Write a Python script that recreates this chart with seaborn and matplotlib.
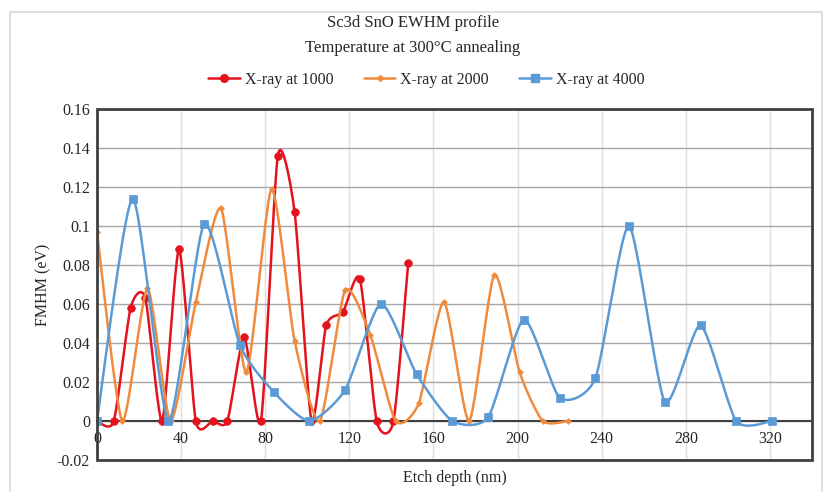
import numpy as np
import pandas as pd
import seaborn as sns
import matplotlib.pyplot as plt
from matplotlib.lines import Line2D
from matplotlib.patches import Rectangle
from matplotlib.ticker import MultipleLocator

# values
red_x = [0, 8, 16, 23, 31, 39, 47, 55, 62, 70, 78, 86, 94, 102, 109, 117, 125, 133, 141, 148]
red_y = [0, 0, 0.058, 0.063, 0, 0.088, 0, 0, 0, 0.043, 0, 0.136, 0.107, 0, 0.049, 0.056, 0.073, 0, 0, 0.081]

orange_x = [0, 12, 24, 35, 47, 59, 71, 83, 94, 106, 118, 130, 142, 153, 165, 177, 189, 201, 212, 224]
orange_y = [0.097, 0, 0.068, 0, 0.061, 0.109, 0.025, 0.119, 0.041, 0, 0.067, 0.044, 0, 0.009, 0.061, 0, 0.075, 0.025, 0, 0]

blue_x = [0, 17, 34, 51, 68, 84, 101, 118, 135, 152, 169, 186, 203, 220, 237, 253, 270, 287, 304, 321]
blue_y = [0, 0.114, 0, 0.101, 0.039, 0.015, 0, 0.016, 0.060, 0.024, 0, 0.002, 0.052, 0.012, 0.022, 0.100, 0.010, 0.049, 0, 0]

labels = ["X-ray at 1000", "X-ray at 2000", "X-ray at 4000"]
colors = ["#e3121c", "#f08a3c", "#5b9bd5"]
markers = ["o", "D", "s"]
msizes = [5.5, 3, 6]


def smooth(xs, ys, n=24, k=0.11):
    # excel style smoothed line (bezier through the points)
    p = np.column_stack([xs, ys]).astype(float)
    pts = [p[0]] + list(p) + [p[-1]]
    out = []
    t = np.linspace(0, 1, n)[:, None]
    for i in range(1, len(pts) - 2):
        p0, p1, p2, p3 = pts[i - 1], pts[i], pts[i + 1], pts[i + 2]
        c1 = p1 + (p2 - p0) * k
        c2 = p2 - (p3 - p1) * k
        seg = ((1 - t) ** 3) * p1 + 3 * ((1 - t) ** 2) * t * c1 + 3 * (1 - t) * t ** 2 * c2 + t ** 3 * p2
        out.append(seg)
    s = np.vstack(out)
    return s[:, 0], s[:, 1]


sns.set_style("white")
plt.rcParams["font.family"] = ["Liberation Serif", "DejaVu Serif"]

fig = plt.figure(figsize=(8.26, 4.92), dpi=100)
ax = fig.add_axes([0.1174, 0.065, 0.8656, 0.7135])

series = [(red_x, red_y), (orange_x, orange_y), (blue_x, blue_y)]
for k, (xs, ys) in enumerate(series):
    sx, sy = smooth(xs, ys)
    curve = pd.DataFrame({"x": sx, "y": sy})
    sns.lineplot(data=curve, x="x", y="y", sort=False, estimator=None, ax=ax,
                 color=colors[k], lw=1.8, zorder=3 + k)
    pts = pd.DataFrame({"x": xs, "y": ys})
    sns.scatterplot(data=pts, x="x", y="y", ax=ax, color=colors[k], marker=markers[k],
                    s=msizes[k] ** 2, edgecolor=colors[k], linewidth=0.5, zorder=3.5 + k)

ax.set_xlim(0, 340)
ax.set_ylim(-0.02, 0.16)
ax.xaxis.set_major_locator(MultipleLocator(40))
ax.xaxis.set_minor_locator(MultipleLocator(8))
ax.yaxis.set_minor_locator(MultipleLocator(0.002))
ax.set_yticks(np.arange(-0.02, 0.161, 0.02))
ax.set_yticklabels(["-0.02", "0", "0.02", "0.04", "0.06", "0.08", "0.1", "0.12", "0.14", "0.16"])

ax.grid(axis="y", color="#a6a6a6", lw=1.0)
ax.grid(axis="x", color="#dedede", lw=1.0)
ax.set_axisbelow(True)

for side in ["top", "right", "left"]:
    ax.spines[side].set_visible(False)
ax.spines["bottom"].set_position(("data", 0))
ax.spines["bottom"].set_color("#404040")
ax.spines["bottom"].set_linewidth(1.5)
ax.add_patch(Rectangle((0, 0), 1, 1, transform=ax.transAxes, fill=False,
                       ec="#404040", lw=2, zorder=10, clip_on=False))

ax.tick_params(axis="both", which="major", direction="inout", length=6, width=1.2,
               color="#404040", labelsize=11.5)
ax.tick_params(axis="both", which="minor", direction="inout", length=4, width=1,
               color="#404040")
ax.tick_params(axis="x", pad=4)
ax.tick_params(axis="y", pad=2)

ax.set_xlabel("Etch depth (nm)", fontsize=11.5)
ax.set_ylabel("FMHM (eV)", fontsize=11.5, labelpad=4)
ax.xaxis.set_label_coords(0.5, -0.028)

fig.text(0.5, 0.953, "Sc3d SnO EWHM profile", ha="center", va="center", fontsize=12)
fig.text(0.5, 0.903, "Temperature at 300°C annealing", ha="center", va="center", fontsize=12)

handles = [Line2D([0], [0], color=colors[k], lw=1.8, marker=markers[k], markersize=msizes[k])
           for k in range(3)]
fig.legend(handles, labels, loc="center", bbox_to_anchor=(0.516, 0.838), ncol=3, frameon=False,
           fontsize=11.5, handlelength=2.0, columnspacing=1.9, handletextpad=0.3)

fig.add_artist(Rectangle((0.012, -0.05), 0.983, 1.026, transform=fig.transFigure, fill=False,
                         ec="#d9d9d9", lw=1.2))

fig.savefig("out.png", dpi=100)
